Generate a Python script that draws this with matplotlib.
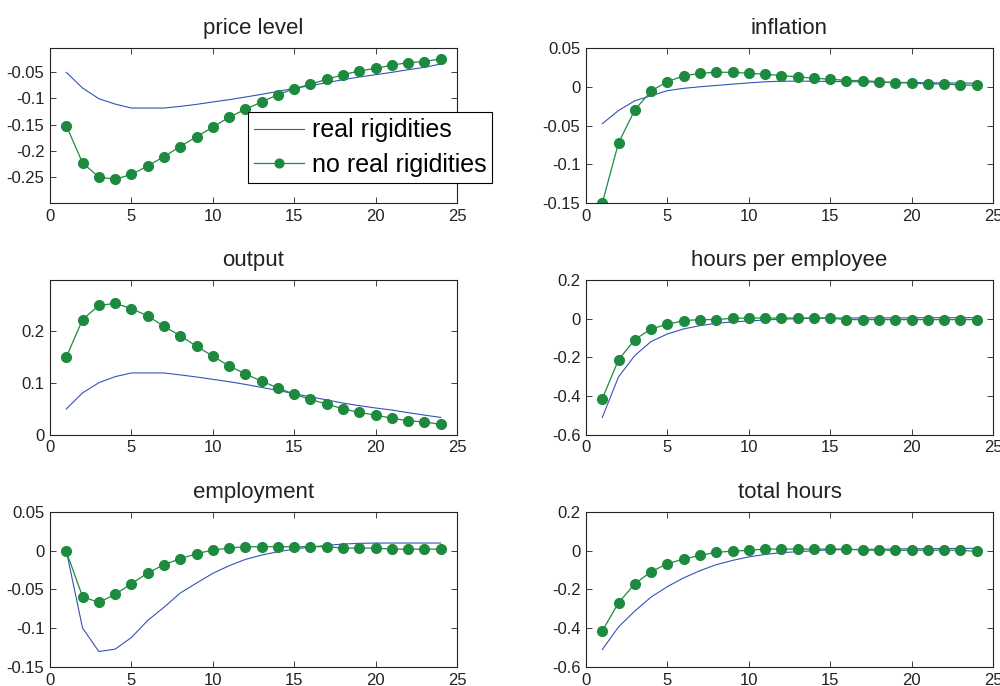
import matplotlib
matplotlib.use("Agg")
import matplotlib.pyplot as plt
from matplotlib.ticker import FuncFormatter

plt.rcParams['font.family'] = ['Liberation Sans', 'DejaVu Sans']

periods = list(range(1, 25))

# price level
price_real = [-0.0506, -0.0805, -0.1008, -0.1110, -0.1186, -0.1186, -0.1186, -0.1154,
              -0.1116, -0.1070, -0.1027, -0.0976, -0.0925, -0.0868, -0.0811, -0.0760,
              -0.0703, -0.0646, -0.0595, -0.0551, -0.0506, -0.0456, -0.0411, -0.0348]
price_noreal = [-0.152, -0.223, -0.250, -0.254, -0.245, -0.229, -0.211, -0.192,
                -0.173, -0.155, -0.136, -0.121, -0.107, -0.093, -0.082, -0.073,
                -0.064, -0.055, -0.048, -0.043, -0.037, -0.032, -0.030, -0.025]

# inflation
infl_real = [-0.0477, -0.0306, -0.0180, -0.0115, -0.0050, -0.0020, 0.0000, 0.0017,
             0.0034, 0.0050, 0.0064, 0.0072, 0.0072, 0.0072, 0.0068, 0.0066,
             0.0064, 0.0060, 0.0057, 0.0055, 0.0052, 0.0050, 0.0048, 0.0047]
infl_noreal = [-0.150, -0.0723, -0.0298, -0.0055, 0.0068, 0.0140, 0.0174, 0.0187,
               0.0187, 0.0174, 0.0162, 0.0145, 0.0128, 0.0110, 0.0098, 0.0081,
               0.0081, 0.0064, 0.0051, 0.0051, 0.0034, 0.0038, 0.0021, 0.0021]

# output
output_real = [0.0497, 0.0806, 0.1000, 0.1116, 0.1187, 0.1187, 0.1187, 0.1150,
               0.1110, 0.1065, 0.1020, 0.0968, 0.0910, 0.0852, 0.0790, 0.0730,
               0.0670, 0.0610, 0.0560, 0.0516, 0.0477, 0.0426, 0.0380, 0.0335]
output_noreal = [0.149, 0.221, 0.248, 0.252, 0.242, 0.228, 0.208, 0.190,
                 0.170, 0.151, 0.132, 0.117, 0.103, 0.090, 0.078, 0.068,
                 0.059, 0.050, 0.043, 0.038, 0.032, 0.027, 0.025, 0.020]

# hours per employee
hpe_real = [-0.510, -0.300, -0.190, -0.118, -0.079, -0.053, -0.036, -0.024,
            -0.017, -0.012, -0.007, -0.003, 0.000, 0.003, 0.003, 0.003,
            0.004, 0.004, 0.004, 0.004, 0.005, 0.005, 0.005, 0.005]
hpe_noreal = [-0.413, -0.212, -0.108, -0.053, -0.029, -0.010, -0.005, -0.005,
              0.002, 0.003, 0.003, 0.003, 0.003, 0.003, 0.003, -0.005,
              -0.005, -0.005, -0.005, -0.005, -0.005, -0.005, -0.005, -0.005]

# employment
emp_real = [0.0000, -0.0998, -0.1300, -0.1270, -0.1120, -0.0900, -0.0730, -0.0546,
            -0.0417, -0.0292, -0.0194, -0.0112, -0.0056, -0.0013, 0.0021, 0.0047,
            0.0069, 0.0086, 0.0095, 0.0099, 0.0099, 0.0099, 0.0099, 0.0099]
emp_noreal = [-0.001, -0.0593, -0.0667, -0.0563, -0.0426, -0.0288, -0.0180, -0.0103,
              -0.0039, 0.0009, 0.0034, 0.0052, 0.0052, 0.0052, 0.0052, 0.0052,
              0.0052, 0.0034, 0.0034, 0.0034, 0.0020, 0.0020, 0.0020, 0.0020]

# total hours
tot_real = [-0.510, -0.393, -0.311, -0.239, -0.185, -0.140, -0.103, -0.072,
            -0.050, -0.032, -0.019, -0.010, -0.005, 0.000, 0.005, 0.006,
            0.007, 0.008, 0.009, 0.010, 0.011, 0.011, 0.012, 0.012]
tot_noreal = [-0.414, -0.268, -0.171, -0.108, -0.067, -0.043, -0.024, -0.0085,
              -0.002, 0.002, 0.0085, 0.0085, 0.0085, 0.0085, 0.0085, 0.0085,
              0.003, 0.003, 0.002, 0.003, 0.002, 0.003, 0.002, -0.003]

panels = [
    ("price level", price_real, price_noreal, (-0.2995, -0.0043), [-0.25, -0.2, -0.15, -0.1, -0.05]),
    ("inflation", infl_real, infl_noreal, (-0.15, 0.05), [-0.15, -0.1, -0.05, 0, 0.05]),
    ("output", output_real, output_noreal, (0, 0.297), [0, 0.1, 0.2]),
    ("hours per employee", hpe_real, hpe_noreal, (-0.6, 0.2), [-0.6, -0.4, -0.2, 0, 0.2]),
    ("employment", emp_real, emp_noreal, (-0.15, 0.05), [-0.15, -0.1, -0.05, 0, 0.05]),
    ("total hours", tot_real, tot_noreal, (-0.6, 0.2), [-0.6, -0.4, -0.2, 0, 0.2]),
]

blue = '#3553b8'
green = '#1e8a40'

fig = plt.figure(figsize=(10, 6.86), dpi=100)
lefts = [0.05, 0.586]
bottoms = [0.704, 0.366, 0.0277]
w, h = 0.407, 0.226

fmt = FuncFormatter(lambda v, p: ('%g' % round(v, 4)))

for i, (title, real, noreal, ylim, yticks) in enumerate(panels):
    ax = fig.add_axes([lefts[i % 2], bottoms[i // 2], w, h])
    ax.plot(periods, real, color=blue, lw=0.8, label='real rigidities')
    ax.plot(periods, noreal, color=green, lw=0.9, marker='o', markersize=7,
            markeredgecolor=green, label='no real rigidities')
    ax.set_xlim(0, 25)
    ax.set_ylim(*ylim)
    ax.set_xticks([0, 5, 10, 15, 20, 25])
    ax.set_yticks(yticks)
    ax.yaxis.set_major_formatter(fmt)
    ax.tick_params(direction='in', top=True, right=True, labelsize=12,
                   colors='#222222', length=4, width=0.6, pad=4)
    for s in ax.spines.values():
        s.set_linewidth(0.8)
        s.set_color('#222222')
    ax.set_title(title, fontsize=16, color='#222222', pad=10)
    if i == 0:
        leg = ax.legend(loc='upper left', bbox_to_anchor=(0.486, 0.587),
                        fontsize=18, fancybox=False, framealpha=1,
                        edgecolor='black', borderpad=0.25, labelspacing=0.42,
                        handlelength=2.0, handletextpad=0.3, borderaxespad=0,
                        markerscale=0.9)
        leg.get_frame().set_linewidth(0.8)

fig.savefig('out.png', dpi=100)
